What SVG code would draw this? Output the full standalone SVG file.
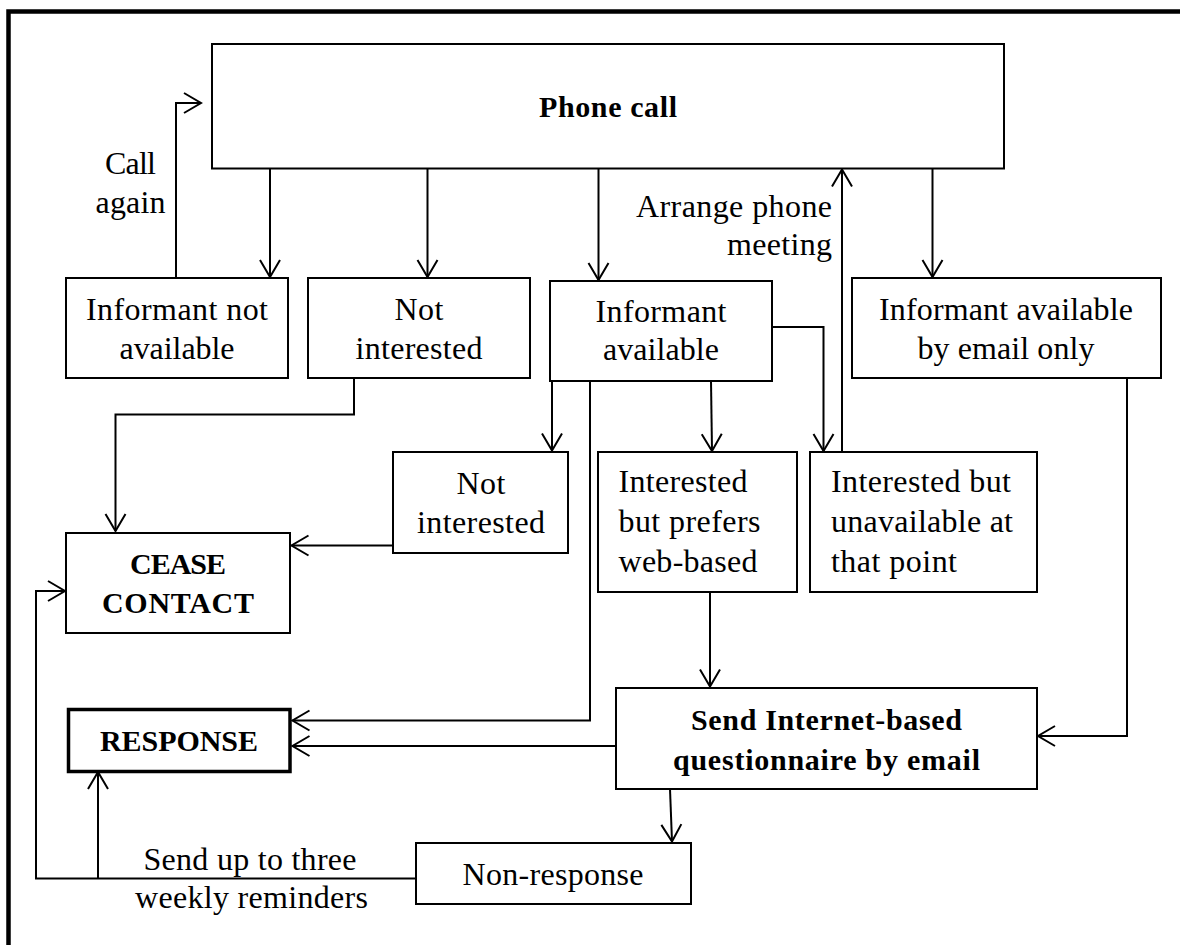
<svg xmlns="http://www.w3.org/2000/svg" width="1180" height="945" viewBox="0 0 1180 945">
  <style>
    .box { fill: #fff; stroke: #000; stroke-width: 2; }
    .box-strong { fill: #fff; stroke: #000; stroke-width: 3.5; }
    .wire { fill: none; stroke: #000; stroke-width: 2; }
    .t { font-family: "Liberation Serif", "Times New Roman", serif; font-size: 32px; fill: #000; }
    .b { font-weight: bold; font-size: 30px; }
    .c { text-anchor: middle; }
    .r { text-anchor: end; }
  </style>
  <defs>
    <marker id="open-arrow" markerUnits="userSpaceOnUse" markerWidth="24" markerHeight="24" viewBox="-19 -12 22 24" refX="0" refY="0" orient="auto" overflow="visible">
      <path d="M-17,-10 L0,0 L-17,10" fill="none" stroke="#000" stroke-width="2"/>
    </marker>
  </defs>

  <rect width="1180" height="945" fill="#fff"/>

  <!-- page frame: top and left rules -->
  <path d="M8.5,945 V11.5 H1180" fill="none" stroke="#000" stroke-width="4.5"/>

  <!-- connectors -->
  <g id="connectors" class="wire" marker-end="url(#open-arrow)">
    <path d="M270,168.5 V277"/>
    <path d="M427.5,168.5 V277"/>
    <path d="M598.5,168.5 V280"/>
    <path d="M932.5,168.5 V277"/>
    <!-- call again loop -->
    <path d="M176,278 V103 H201"/>
    <!-- arrange phone meeting -->
    <path d="M842,452 V169.5"/>
    <!-- not interested to cease contact -->
    <path d="M354,378 V414.5 H115.5 V531"/>
    <path d="M393,545.5 H291.5"/>
    <!-- informant available branches -->
    <path d="M552,381 V450.5"/>
    <path d="M711,381 L712,451"/>
    <path d="M772,327 H823.5 V451"/>
    <path d="M590,381 V720.5 H292.5"/>
    <!-- web-based to questionnaire -->
    <path d="M710,592 V686.5"/>
    <!-- email only to questionnaire -->
    <path d="M1127,378 V736 H1038"/>
    <!-- questionnaire outcomes -->
    <path d="M616,746 H292.5"/>
    <path d="M670,789 L672,841.5"/>
    <!-- reminders loop -->
    <path d="M416,878.5 H36 V591 H65"/>
    <path d="M98,878.5 V772"/>
  </g>

  <g id="phone-call">
    <rect class="box" x="212" y="44" width="792" height="124.5"/>
    <text class="t b c" x="608" y="117" textLength="138" lengthAdjust="spacing">Phone call</text>
  </g>

  <g id="label-call-again">
    <text class="t c" x="130.5" y="174" textLength="51" lengthAdjust="spacing">Call</text>
    <text class="t c" x="130.5" y="213" textLength="70" lengthAdjust="spacing">again</text>
  </g>

  <g id="label-arrange-meeting">
    <text class="t r" x="832" y="216.5" textLength="196" lengthAdjust="spacing">Arrange phone</text>
    <text class="t r" x="832" y="255" textLength="105" lengthAdjust="spacing">meeting</text>
  </g>

  <g id="informant-not-available">
    <rect class="box" x="66" y="278" width="222" height="100"/>
    <text class="t c" x="177" y="320" textLength="182" lengthAdjust="spacing">Informant not</text>
    <text class="t c" x="177" y="359" textLength="115" lengthAdjust="spacing">available</text>
  </g>

  <g id="not-interested-1">
    <rect class="box" x="308" y="278" width="222" height="100"/>
    <text class="t c" x="419" y="320" textLength="49" lengthAdjust="spacing">Not</text>
    <text class="t c" x="419" y="359" textLength="127" lengthAdjust="spacing">interested</text>
  </g>

  <g id="informant-available">
    <rect class="box" x="550" y="281" width="222" height="100"/>
    <text class="t c" x="661" y="321.5" textLength="131" lengthAdjust="spacing">Informant</text>
    <text class="t c" x="661" y="360" textLength="116" lengthAdjust="spacing">available</text>
  </g>

  <g id="informant-email-only">
    <rect class="box" x="852" y="278" width="309" height="100"/>
    <text class="t c" x="1006" y="319.5" textLength="254" lengthAdjust="spacing">Informant available</text>
    <text class="t c" x="1006" y="358.5" textLength="177" lengthAdjust="spacing">by email only</text>
  </g>

  <g id="not-interested-2">
    <rect class="box" x="393" y="452" width="175" height="101"/>
    <text class="t c" x="481" y="493.5" textLength="49" lengthAdjust="spacing">Not</text>
    <text class="t c" x="481" y="533" textLength="128" lengthAdjust="spacing">interested</text>
  </g>

  <g id="interested-web-based">
    <rect class="box" x="598" y="452" width="199" height="140"/>
    <text class="t" x="618.5" y="491.5" textLength="129" lengthAdjust="spacing">Interested</text>
    <text class="t" x="618.5" y="531.5" textLength="142" lengthAdjust="spacing">but prefers</text>
    <text class="t" x="618.5" y="571.5" textLength="139" lengthAdjust="spacing">web-based</text>
  </g>

  <g id="interested-unavailable">
    <rect class="box" x="810" y="452" width="227" height="140"/>
    <text class="t" x="831" y="491.5" textLength="180" lengthAdjust="spacing">Interested but</text>
    <text class="t" x="831" y="532" textLength="182" lengthAdjust="spacing">unavailable at</text>
    <text class="t" x="831" y="571.5" textLength="126" lengthAdjust="spacing">that point</text>
  </g>

  <g id="cease-contact">
    <rect class="box" x="66" y="533" width="224" height="100"/>
    <text class="t b c" x="178" y="574" textLength="96" lengthAdjust="spacing">CEASE</text>
    <text class="t b c" x="178" y="613" textLength="152" lengthAdjust="spacing">CONTACT</text>
  </g>

  <g id="response">
    <rect class="box-strong" x="68.5" y="709.5" width="221.5" height="62"/>
    <text class="t b c" x="179" y="751" textLength="158" lengthAdjust="spacing">RESPONSE</text>
  </g>

  <g id="send-questionnaire">
    <rect class="box" x="616" y="688" width="421" height="101"/>
    <text class="t b c" x="826.5" y="730" textLength="271" lengthAdjust="spacing">Send Internet-based</text>
    <text class="t b c" x="826.5" y="770" textLength="307" lengthAdjust="spacing">questionnaire by email</text>
  </g>

  <g id="non-response">
    <rect class="box" x="416" y="843" width="275" height="61"/>
    <text class="t c" x="553" y="885" textLength="181" lengthAdjust="spacing">Non-response</text>
  </g>

  <g id="label-reminders">
    <text class="t c" x="250" y="870" textLength="213" lengthAdjust="spacing">Send up to three</text>
    <text class="t c" x="251.5" y="908" textLength="233" lengthAdjust="spacing">weekly reminders</text>
  </g>
</svg>
